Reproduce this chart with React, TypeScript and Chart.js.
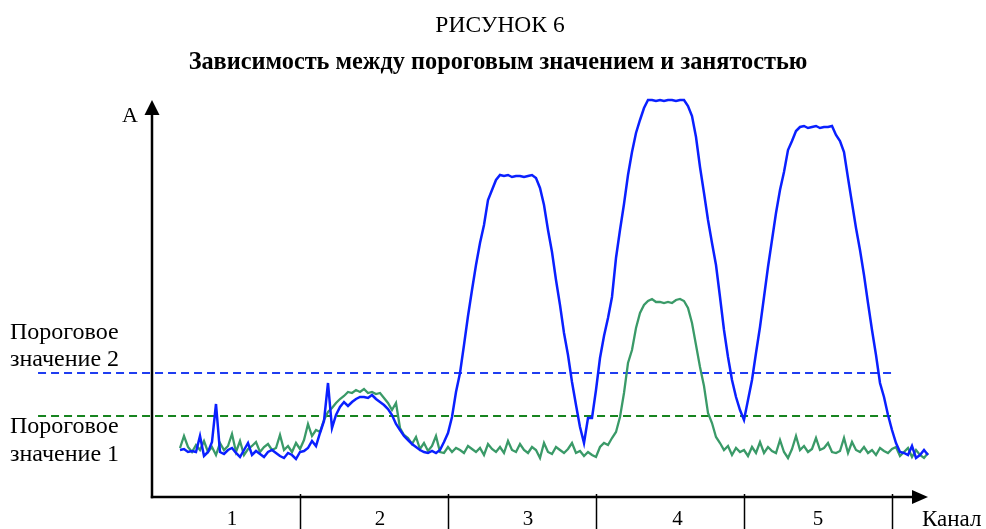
import React, { useEffect, useRef } from "react";
import { Chart, registerables } from "chart.js";

Chart.register(...registerables);

const TITLE = "РИСУНОК 6";
const SUBTITLE = "Зависимость между пороговым значением и занятостью";
const Y_LABEL = "A";
const X_LABEL = "Канал";
const CHANNEL_LABELS = ["1", "2", "3", "4", "5"];
const CHANNEL_LABEL_POS = [0.54, 1.54, 2.54, 3.55, 4.5];
const CHANNEL_BOUNDS = [1, 2, 3, 4, 5];
const THRESHOLD_2_LABEL = ["Пороговое", "значение 2"];
const THRESHOLD_1_LABEL = ["Пороговое", "значение 1"];
const THRESHOLD_2 = 124;
const THRESHOLD_1 = 81;
const THRESHOLD_X = [-0.77, 5.0];

const SAMPLES_PER_CHANNEL = 37;
const FIRST_SAMPLE = 7;
const X_MAX = 194 / 37;
const Y_MAX = 397;

const blueSeries = [
  47, 48, 45, 46, 45, 61, 41, 45, 55, 93,
  45, 43, 47, 49, 44, 40, 47, 54, 42, 46,
  43, 40, 45, 47, 44, 41, 39, 44, 42, 38,
  45, 46, 49, 56, 51, 64, 76, 114, 69, 82,
  90, 95, 91, 95, 98, 100, 100, 99, 102, 98,
  95, 92, 88, 82, 73, 67, 61, 57, 53, 50,
  47, 45, 44, 46, 44, 47, 55, 64, 80, 105,
  124, 152, 181, 207, 232, 254, 272, 297, 307, 317,
  322, 321, 322, 320, 321, 321, 320, 321, 322, 319,
  309, 292, 267, 245, 217, 192, 164, 142, 115, 92,
  70, 54, 79, 79, 107, 139, 161, 179, 200, 239,
  267, 293, 322, 345, 364, 377, 389, 397, 397, 396,
  397, 396, 397, 397, 396, 397, 397, 391, 381, 360,
  330, 304, 277, 254, 232, 200, 167, 140, 117, 100,
  87, 77, 97, 117, 144, 170, 200, 230, 257, 284,
  307, 325, 347, 356, 366, 370, 371, 369, 370, 371,
  369, 370, 370, 371, 362, 356, 345, 319, 294, 269,
  247, 222, 194, 167, 142, 114, 100, 82, 67, 54,
  45, 44, 42, 51, 39, 42, 47, 42,
];

const greenSeries = [
  49, 61, 50, 45, 52, 47, 56, 45, 50, 42,
  54, 47, 51, 63, 45, 56, 42, 48, 51, 55,
  45, 50, 53, 47, 49, 62, 47, 51, 45, 54,
  48, 57, 73, 61, 67, 65, 77, 85, 89, 94,
  98, 101, 105, 104, 107, 105, 108, 104, 105, 103,
  104, 99, 94, 87, 94, 69, 62, 59, 53, 60,
  48, 54, 46, 51, 61, 45, 44, 50, 45, 49,
  47, 44, 51, 48, 45, 49, 42, 53, 48, 45,
  50, 44, 56, 47, 45, 53, 47, 44, 50, 47,
  39, 54, 45, 43, 50, 47, 44, 48, 54, 44,
  46, 41, 45, 42, 40, 50, 54, 52, 59, 65,
  80, 104, 134, 147, 169, 184, 192, 196, 198, 195,
  195, 194, 195, 194, 197, 198, 196, 189, 174, 152,
  130, 111, 84, 74, 60, 54, 47, 51, 42, 49,
  45, 47, 41, 50, 44, 55, 44, 50, 46, 44,
  57, 45, 39, 48, 61, 47, 51, 45, 48, 59,
  47, 49, 54, 45, 44, 46, 59, 44, 55, 47,
  45, 50, 44, 47, 42, 49, 46, 44, 48, 50,
  41, 45, 49, 40, 47, 42, 39, 44,
];

const toPoints = (vals: number[]) =>
  vals.map((v, i) => ({ x: (FIRST_SAMPLE + i) / SAMPLES_PER_CHANNEL, y: v }));

const SERIF = '"Liberation Serif", "Times New Roman", serif';

const decorPlugin = {
  id: "decor",
  beforeDatasetsDraw(chart: any) {
    const ctx = chart.ctx;
    const xs = chart.scales.x;
    const ys = chart.scales.y;
    const x0 = xs.getPixelForValue(0);
    const y0 = ys.getPixelForValue(0);
    const xEnd = xs.getPixelForValue(X_MAX);
    const yEnd = ys.getPixelForValue(Y_MAX);
    ctx.save();
    ctx.strokeStyle = "#000";
    ctx.fillStyle = "#000";
    ctx.lineWidth = 2.5;
    ctx.lineCap = "butt";
    // y axis
    ctx.beginPath();
    ctx.moveTo(x0, y0 + 1.2);
    ctx.lineTo(x0, yEnd + 12);
    ctx.stroke();
    ctx.beginPath();
    ctx.moveTo(x0, yEnd);
    ctx.lineTo(x0 - 7.5, yEnd + 15);
    ctx.lineTo(x0 + 7.5, yEnd + 15);
    ctx.closePath();
    ctx.fill();
    // x axis
    ctx.beginPath();
    ctx.moveTo(x0 - 1.2, y0);
    ctx.lineTo(xEnd - 12, y0);
    ctx.stroke();
    ctx.beginPath();
    ctx.moveTo(xEnd, y0);
    ctx.lineTo(xEnd - 16, y0 - 7);
    ctx.lineTo(xEnd - 16, y0 + 7);
    ctx.closePath();
    ctx.fill();
    // channel separators
    ctx.lineWidth = 1.5;
    CHANNEL_BOUNDS.forEach((b) => {
      const px = Math.round(xs.getPixelForValue(b)) + 0.5;
      ctx.beginPath();
      ctx.moveTo(px, y0 - 3);
      ctx.lineTo(px, chart.height);
      ctx.stroke();
    });
    ctx.restore();
  },
  afterDraw(chart: any) {
    const ctx = chart.ctx;
    const xs = chart.scales.x;
    const ys = chart.scales.y;
    const x0 = xs.getPixelForValue(0);
    const y0 = ys.getPixelForValue(0);
    const yEnd = ys.getPixelForValue(Y_MAX);
    const xEnd = xs.getPixelForValue(X_MAX);
    ctx.save();
    ctx.fillStyle = "#000";
    ctx.textBaseline = "alphabetic";
    // titles
    ctx.textAlign = "center";
    ctx.font = `23.5px ${SERIF}`;
    ctx.fillText(TITLE, chart.width / 2 + 7, 32);
    ctx.font = `bold 24.3px ${SERIF}`;
    ctx.fillText(SUBTITLE, chart.width / 2 + 5, 69);
    // y label
    ctx.textAlign = "right";
    ctx.font = `22px ${SERIF}`;
    ctx.fillText(Y_LABEL, x0 - 14, yEnd + 22);
    // x label
    ctx.textAlign = "left";
    ctx.font = `23px ${SERIF}`;
    ctx.fillText(X_LABEL, xEnd - 6, y0 + 29);
    // channel labels
    ctx.textAlign = "center";
    ctx.font = `21px ${SERIF}`;
    CHANNEL_LABELS.forEach((t, i) => {
      ctx.fillText(t, xs.getPixelForValue(CHANNEL_LABEL_POS[i]), y0 + 28);
    });
    // threshold labels
    ctx.textAlign = "left";
    ctx.font = `24px ${SERIF}`;
    const t2 = ys.getPixelForValue(THRESHOLD_2);
    const t1 = ys.getPixelForValue(THRESHOLD_1);
    ctx.fillText(THRESHOLD_2_LABEL[0], 10, t2 - 34);
    ctx.fillText(THRESHOLD_2_LABEL[1], 10, t2 - 7);
    ctx.fillText(THRESHOLD_1_LABEL[0], 10, t1 + 17);
    ctx.fillText(THRESHOLD_1_LABEL[1], 10, t1 + 45);
    ctx.restore();
  },
};

export default function App() {
  const canvasRef = useRef<HTMLCanvasElement | null>(null);

  useEffect(() => {
    const canvas = canvasRef.current;
    if (!canvas) return;
    const chart = new Chart(canvas, {
      type: "line",
      data: {
        datasets: [
          {
            label: "blue",
            data: toPoints(blueSeries),
            borderColor: "#0a20ff",
            borderWidth: 2.5,
            pointRadius: 0,
            tension: 0,
            fill: false,
            clip: false,
            order: 0,
          } as any,
          {
            label: "green",
            data: toPoints(greenSeries),
            borderColor: "#3a9a68",
            borderWidth: 2.3,
            pointRadius: 0,
            tension: 0,
            fill: false,
            clip: false,
            order: 1,
          },
          {
            label: "threshold2",
            data: THRESHOLD_X.map((x) => ({ x, y: THRESHOLD_2 })),
            borderColor: "#1f3df0",
            borderWidth: 2,
            borderDash: [8, 5],
            pointRadius: 0,
            fill: false,
            clip: false,
            order: 2,
          },
          {
            label: "threshold1",
            data: THRESHOLD_X.map((x) => ({ x, y: THRESHOLD_1 })),
            borderColor: "#17841f",
            borderWidth: 2,
            borderDash: [8, 5],
            pointRadius: 0,
            fill: false,
            clip: false,
            order: 2,
          },
        ],
      },
      options: {
        animation: false,
        responsive: false,
        devicePixelRatio: 1,
        layout: { padding: { left: 152, right: 58, top: 100, bottom: 32 } },
        plugins: {
          legend: { display: false },
          title: { display: false },
          tooltip: { enabled: false },
        },
        scales: {
          x: { type: "linear", min: 0, max: X_MAX, display: false },
          y: { type: "linear", min: 0, max: Y_MAX, display: false },
        },
        events: [],
      },
      plugins: [decorPlugin],
    });
    return () => chart.destroy();
  }, []);

  return (
    <div
      style={{
        position: "absolute",
        left: 0,
        top: 0,
        width: 986,
        height: 529,
        background: "#fff",
      }}
    >
      <canvas ref={canvasRef} width={986} height={529} style={{ display: "block" }} />
    </div>
  );
}
